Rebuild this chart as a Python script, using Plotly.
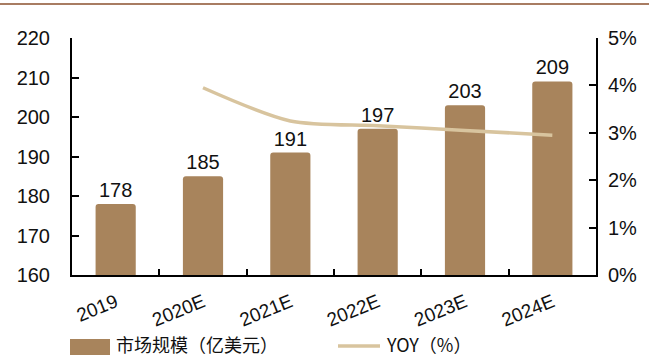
import plotly.graph_objects as go

categories = ["2019", "2020E", "2021E", "2022E", "2023E", "2024E"]
market_size = [178, 185, 191, 197, 203, 209]
yoy_cats = ["2020E", "2021E", "2022E", "2023E", "2024E"]
yoy_pct = [3.95, 3.25, 3.15, 3.05, 2.95]
left_ticks = [160, 170, 180, 190, 200, 210, 220]
right_ticks = [0, 1, 2, 3, 4, 5]
right_tick_labels = [f"{v}%" for v in right_ticks]
legend_names = ["市场规模（亿美元）", "YOY（%）"]

BAR = "#A8845C"
LINE = "#D8C49E"
FONT = "Liberation Sans, Arial, sans-serif"
CJK = "Noto Sans CJK SC, Liberation Sans, sans-serif"

fig = go.Figure()
fig.add_trace(go.Bar(
    x=categories, y=market_size, name=legend_names[0],
    marker=dict(color=BAR, cornerradius=3, line=dict(width=0)),
    width=0.46,
    text=[str(v) for v in market_size], textposition="outside",
    textfont=dict(size=20, color="#111111", family=FONT),
    cliponaxis=False,
))
fig.add_trace(go.Scatter(
    x=yoy_cats, y=yoy_pct, name=legend_names[1], yaxis="y2",
    mode="lines", line=dict(color=LINE, width=3.5, shape="spline", smoothing=0.8),
))

W, H = 649, 356
L, R, T, B = 72, 53, 38, 81
pw, ph = W - L - R, H - T - B


def px_x(x):
    return (x - L) / pw


def px_y(y):
    return (H - B - y) / ph


shapes = [
    dict(type="line", xref="paper", yref="paper",
         x0=px_x(0), x1=px_x(W), y0=px_y(4), y1=px_y(4),
         line=dict(color="#A87C62", width=2)),
    # legend swatches
    dict(type="rect", xref="paper", yref="paper",
         x0=px_x(70), x1=px_x(110), y0=px_y(339), y1=px_y(355),
         fillcolor=BAR, line=dict(width=0)),
    dict(type="line", xref="paper", yref="paper",
         x0=px_x(338), x1=px_x(380), y0=px_y(346), y1=px_y(346),
         line=dict(color=LINE, width=3.5)),
]
annotations = [
    dict(xref="paper", yref="paper", x=px_x(114), y=px_y(344), text=legend_names[0],
         showarrow=False, xanchor="left", yanchor="middle",
         font=dict(size=18, family=CJK, color="#111111")),
    dict(xref="paper", yref="paper", x=px_x(384), y=px_y(344), text=legend_names[1],
         showarrow=False, xanchor="left", yanchor="middle",
         font=dict(size=18, family=CJK, color="#111111")),
]

fig.update_layout(
    width=W, height=H,
    margin=dict(l=L, r=R, t=T, b=B, autoexpand=False),
    paper_bgcolor="white", plot_bgcolor="white",
    font=dict(family=FONT, size=20, color="#111111"),
    showlegend=False,
    xaxis=dict(
        type="category", showline=True, linecolor="#000000", linewidth=2,
        ticks="inside", tickson="boundaries", ticklen=6, tickcolor="#000000", tickwidth=2,
        tickangle=-22, tickfont=dict(size=19), automargin=False,
        range=[-0.5, 5.5], ticklabelstandoff=7,
    ),
    yaxis=dict(
        range=[160, 220], tickvals=left_ticks, showline=True, linecolor="#000000",
        linewidth=2, ticks="inside", ticklen=7, tickcolor="#000000", tickwidth=2,
        showgrid=False, zeroline=False, ticklabelstandoff=16, automargin=False,
        tickfont=dict(size=20),
    ),
    yaxis2=dict(
        range=[0, 5], overlaying="y", side="right", tickvals=right_ticks,
        ticktext=right_tick_labels, showline=True, linecolor="#000000", linewidth=2,
        ticks="inside", ticklen=7, tickcolor="#000000", tickwidth=2,
        showgrid=False, zeroline=False, ticklabelstandoff=6, automargin=False,
        tickfont=dict(size=20),
    ),
    shapes=shapes,
    annotations=annotations,
)

fig.write_html("out.html")
